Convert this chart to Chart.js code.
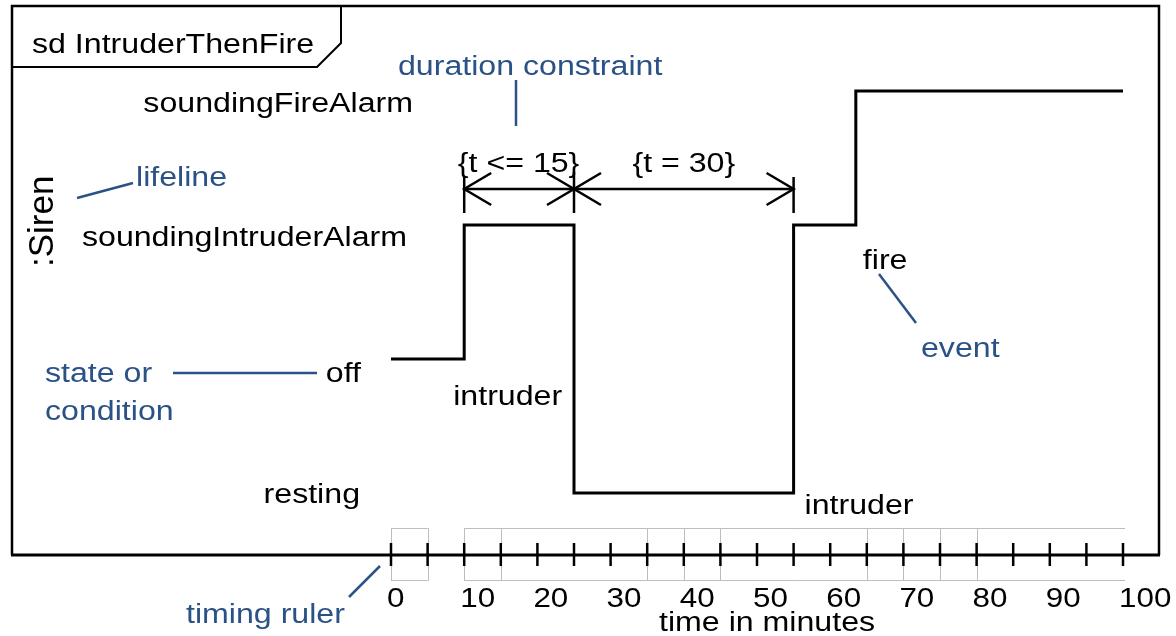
<!DOCTYPE html>
<html>
<head>
<meta charset="utf-8">
<script src="https://cdn.jsdelivr.net/npm/chart.js@4/dist/chart.umd.min.js"></script>
<style>
html,body{margin:0;padding:0;background:#fff;}
#wrap{width:1176px;height:636px;position:relative;}
</style>
</head>
<body>
<div id="wrap"><canvas id="c" width="1176" height="636"></canvas></div>
<script>
// ---- data ----
const stateNames = ['resting', 'off', 'soundingIntruderAlarm', 'soundingFireAlarm'];
const eventTimes = [0, 10, 25, 55, 63.5, 100];
const eventStates = ['off', 'soundingIntruderAlarm', 'resting', 'soundingIntruderAlarm', 'soundingFireAlarm', 'soundingFireAlarm'];
const rulerTicks = [0, 5, 10, 15, 20, 25, 30, 35, 40, 45, 50, 55, 60, 65, 70, 75, 80, 85, 90, 95, 100];
const rulerLabelValues = [0, 10, 20, 30, 40, 50, 60, 70, 80, 90, 100];
const rulerLabels = ['0', '10', '20', '30', '40', '50', '60', '70', '80', '90', '100'];
const rulerBoxEdges = [0, 5, 10, 15, 35, 40, 45, 65, 70, 75, 80];
const constraintStarts = [10, 25];
const constraintEnds = [25, 55];
const constraintLabels = ['{t <= 15}', '{t = 30}'];
const eventLabels = ['intruder', 'intruder', 'fire'];
const eventLabelTimes = [10, 55, 63.5];
const eventLabelStates = ['off', 'resting', 'soundingIntruderAlarm'];
const lifelineName = ':Siren';
const frameTitle = 'sd IntruderThenFire';
const axisTitle = 'time in minutes';

const BLUE = '#2a5286';
const FONT = '"Liberation Sans", Arial, sans-serif';
const SX = 1.19;
const FS = 27;

function txt(ctx, s, x, y, o) {
  o = o || {};
  ctx.save();
  ctx.translate(x, y);
  if (o.rot) ctx.rotate(o.rot);
  ctx.scale(o.sx !== undefined ? o.sx : SX, o.sy || 1);
  ctx.font = (o.size || FS) + 'px ' + FONT;
  ctx.fillStyle = o.color || '#000';
  ctx.textAlign = o.align || 'left';
  ctx.textBaseline = 'alphabetic';
  ctx.fillText(s, 0, 0);
  ctx.restore();
}
function seg(ctx, x1, y1, x2, y2, color, w) {
  ctx.save();
  ctx.beginPath();
  ctx.moveTo(x1, y1);
  ctx.lineTo(x2, y2);
  ctx.strokeStyle = color;
  ctx.lineWidth = w;
  ctx.lineCap = 'butt';
  ctx.stroke();
  ctx.restore();
}

const decor = {
  id: 'timingDecor',
  afterDraw(chart) {
    const ctx = chart.ctx;
    const xs = chart.scales.x, ys = chart.scales.y;
    const X = v => xs.getPixelForValue(v);
    const Y = name => ys.getPixelForValue(stateNames.indexOf(name));
    const RULER_Y = 555;

    // frame
    ctx.save();
    ctx.strokeStyle = '#000';
    ctx.lineWidth = 2.5;
    ctx.beginPath();
    ctx.moveTo(12, 555); ctx.lineTo(12, 6); ctx.lineTo(1159, 6); ctx.lineTo(1159, 555);
    ctx.stroke();
    // tab
    ctx.lineWidth = 2;
    ctx.beginPath();
    ctx.moveTo(341, 6); ctx.lineTo(341, 43); ctx.lineTo(317, 67); ctx.lineTo(12, 67);
    ctx.stroke();
    ctx.restore();
    txt(ctx, frameTitle, 32, 53);

    // ruler boxes (gray)
    ctx.save();
    ctx.strokeStyle = '#bdbdbd';
    ctx.lineWidth = 1;
    ctx.beginPath();
    ctx.moveTo(X(0), 528.5); ctx.lineTo(X(5), 528.5);
    ctx.moveTo(X(0), 580.5); ctx.lineTo(X(5), 580.5);
    ctx.moveTo(X(10), 528.5); ctx.lineTo(X(100) + 2, 528.5);
    ctx.moveTo(X(10), 580.5); ctx.lineTo(X(100) + 2, 580.5);
    rulerBoxEdges.forEach(t => {
      const px = Math.round(X(t)) + 0.5;
      ctx.moveTo(px, 528); ctx.lineTo(px, 581);
    });
    ctx.stroke();
    ctx.restore();

    // ruler line (frame bottom)
    seg(ctx, 11, RULER_Y, 1160, RULER_Y, '#000', 3);
    rulerTicks.forEach(t => seg(ctx, X(t), 543, X(t), 566, '#000', 2.5));
    rulerLabelValues.forEach((v, i) => txt(ctx, rulerLabels[i], X(v) - 4, 607, {size: 28, sx: 1.12}));
    txt(ctx, axisTitle, 659, 631);

    // state labels
    const stateLabelRight = {soundingFireAlarm: 413, soundingIntruderAlarm: 407, off: 361, resting: 360};
    const stateLabelDy = {soundingFireAlarm: 21, soundingIntruderAlarm: 21, off: 23, resting: 10};
    stateNames.forEach(n => txt(ctx, n, stateLabelRight[n], Y(n) + stateLabelDy[n], {align: 'right'}));

    // lifeline name
    txt(ctx, lifelineName, 53, 267, {rot: -Math.PI / 2, sx: 1, size: 35});

    // event labels
    const evDx = [-11, 11, 7];
    const evDy = [46, 21, 44];
    eventLabels.forEach((s, i) => txt(ctx, s, X(eventLabelTimes[i]) + evDx[i], Y(eventLabelStates[i]) + evDy[i]));

    // duration constraints
    const arrowY = 189, ah = 27, aw = 16;
    const marks = [constraintStarts[0], constraintEnds[0], constraintEnds[1]];
    marks.forEach((t, i) => seg(ctx, X(t), i === 1 ? 172 : 177, X(t), 213, '#000', 2.5));
    constraintStarts.forEach((s, i) => {
      const a = X(s), b = X(constraintEnds[i]);
      seg(ctx, a, arrowY, b, arrowY, '#000', 2.5);
      ctx.save();
      ctx.strokeStyle = '#000'; ctx.lineWidth = 2.5;
      ctx.beginPath();
      ctx.moveTo(a + ah, arrowY - aw); ctx.lineTo(a, arrowY); ctx.lineTo(a + ah, arrowY + aw);
      ctx.moveTo(b - ah, arrowY - aw); ctx.lineTo(b, arrowY); ctx.lineTo(b - ah, arrowY + aw);
      ctx.stroke();
      ctx.restore();
      txt(ctx, constraintLabels[i], (a + b) / 2 + (i === 0 ? -0.5 : 0), 172, {align: 'center'});
    });

    // blue annotations
    txt(ctx, 'duration constraint', 398, 75, {color: BLUE});
    seg(ctx, 516, 80, 516, 126, BLUE, 2.5);
    txt(ctx, 'lifeline', 136, 186, {color: BLUE});
    seg(ctx, 77, 198, 133, 183, BLUE, 2.5);
    txt(ctx, 'state or', 45, 382, {color: BLUE});
    txt(ctx, 'condition', 45, 420, {color: BLUE});
    seg(ctx, 173, 373, 317, 373, BLUE, 2.5);
    txt(ctx, 'event', 921, 357, {color: BLUE});
    seg(ctx, 879, 274, 916, 323, BLUE, 2.5);
    txt(ctx, 'timing ruler', 186, 623, {color: BLUE});
    seg(ctx, 349, 597, 380, 566, BLUE, 2.5);
  }
};

const points = eventTimes.map((t, i) => ({x: t, y: stateNames.indexOf(eventStates[i])}));

new Chart(document.getElementById('c'), {
  type: 'line',
  data: {
    datasets: [{
      data: points,
      stepped: true,
      borderColor: '#000',
      borderWidth: 3,
      pointRadius: 0,
      fill: false,
      borderJoinStyle: 'miter',
      clip: false
    }]
  },
  options: {
    responsive: false,
    animation: false,
    events: [],
    layout: {padding: {left: 391, right: 53, top: 24, bottom: 76}},
    plugins: {legend: {display: false}, tooltip: {enabled: false}, title: {display: false}},
    scales: {
      x: {type: 'linear', min: 0, max: 100, display: false},
      y: {type: 'linear', min: -0.5, max: 3.5, display: false}
    }
  },
  plugins: [decor]
});
</script>
</body>
</html>
